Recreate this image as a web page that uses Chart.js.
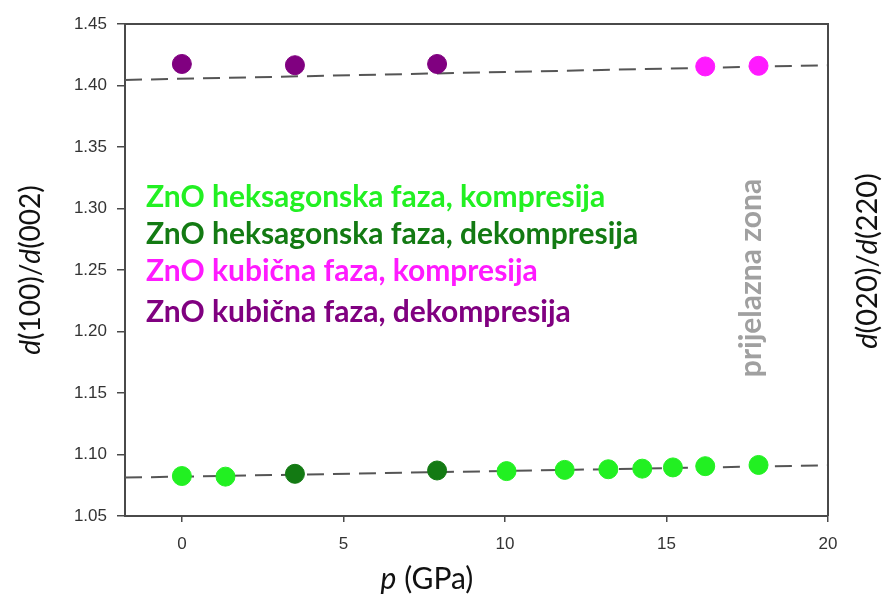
<!DOCTYPE html>
<html>
<head>
<meta charset="utf-8">
<script src="https://cdn.jsdelivr.net/npm/chart.js@4.4.1/dist/chart.umd.min.js"></script>
<style>
  html, body { margin: 0; padding: 0; background: #fff; }
  #wrap { width: 887px; height: 597px; }
</style>
</head>
<body>
<div id="wrap"><canvas id="chart" width="887" height="597"></canvas></div>
<script>
// podaci očitani s grafa
const xTicks = [0, 5, 10, 15, 20];
const yTicks = [1.05, 1.10, 1.15, 1.20, 1.25, 1.30, 1.35, 1.40, 1.45];

const hexKompX = [0, 1.35, 10.05, 11.85, 13.2, 14.25, 15.2, 16.2, 17.85];
const hexKompY = [1.0825, 1.082, 1.0865, 1.0875, 1.088, 1.0885, 1.0895, 1.0905, 1.0915];

const hexDekompX = [3.5, 7.9];
const hexDekompY = [1.0843, 1.087];

const kubKompX = [16.2, 17.85];
const kubKompY = [1.4155, 1.416];

const kubDekompX = [0, 3.5, 7.9];
const kubDekompY = [1.4175, 1.4165, 1.4175];

// isprekidane linije (trend)
const fitX = [-1.76, 20];
const fitGoreY = [1.4045, 1.4165];
const fitDoljeY = [1.0812, 1.0912];

const legendLabels = [
  "ZnO heksagonska faza, kompresija",
  "ZnO heksagonska faza, dekompresija",
  "ZnO kubična faza, kompresija",
  "ZnO kubična faza, dekompresija",
];
const zoneLabel = "prijelazna zona";

function toPoints(xs, ys) {
  return xs.map((x, i) => ({ x: x, y: ys[i] }));
}

const colors = ["#22f022", "#137a13", "#ff1aff", "#800080"];

// crtanje teksta s kurzivnim dijelovima
function drawMixed(ctx, parts, size) {
  let total = 0;
  parts.forEach((p) => {
    ctx.font = (p.i ? "italic " : "") + size + "px Lato";
    total += ctx.measureText(p.t).width;
  });
  let x = -total / 2;
  parts.forEach((p) => {
    ctx.font = (p.i ? "italic " : "") + size + "px Lato";
    ctx.fillText(p.t, x, 0);
    x += ctx.measureText(p.t).width;
  });
}

const decor = {
  id: "decor",
  afterDraw(chart) {
    const ctx = chart.ctx;
    const a = chart.chartArea;
    ctx.save();
    // okvir gore i desno
    ctx.strokeStyle = "#4a4a4a";
    ctx.lineWidth = 2;
    ctx.beginPath();
    ctx.moveTo(a.left, a.top);
    ctx.lineTo(a.right, a.top);
    ctx.lineTo(a.right, a.bottom);
    ctx.stroke();

    // legenda
    ctx.textBaseline = "alphabetic";
    ctx.textAlign = "left";
    ctx.font = "bold 30px Lato";
    const baselines = [207, 244, 281, 322];
    legendLabels.forEach((t, i) => {
      ctx.fillStyle = colors[i];
      ctx.fillText(t, 146, baselines[i]);
    });

    // prijelazna zona
    ctx.save();
    ctx.translate(761, 278);
    ctx.rotate(-Math.PI / 2);
    ctx.textAlign = "center";
    ctx.fillStyle = "#a0a0a0";
    ctx.font = "bold 30px Lato";
    ctx.fillText(zoneLabel, 0, 0);
    ctx.restore();

    // naslovi osi
    ctx.fillStyle = "#111";
    ctx.textAlign = "left";
    ctx.save();
    ctx.translate(40, 270);
    ctx.rotate(-Math.PI / 2);
    drawMixed(ctx, [{ t: "d", i: true }, { t: "(100)/" }, { t: "d", i: true }, { t: "(002)" }], 28);
    ctx.restore();

    ctx.save();
    ctx.translate(877, 261);
    ctx.rotate(-Math.PI / 2);
    drawMixed(ctx, [{ t: "d", i: true }, { t: "(020)/" }, { t: "d", i: true }, { t: "(220)" }], 29);
    ctx.restore();

    ctx.save();
    ctx.translate(427, 589);
    drawMixed(ctx, [{ t: "p", i: true }, { t: " (GPa)" }], 30);
    ctx.restore();

    ctx.restore();
  },
};

new Chart(document.getElementById("chart"), {
  type: "scatter",
  data: {
    datasets: [
      {
        label: legendLabels[0],
        data: toPoints(hexKompX, hexKompY),
        backgroundColor: colors[0],
        borderColor: colors[0],
        pointRadius: 9.5,
      },
      {
        label: legendLabels[1],
        data: toPoints(hexDekompX, hexDekompY),
        backgroundColor: colors[1],
        borderColor: colors[1],
        pointRadius: 9.5,
      },
      {
        label: legendLabels[2],
        data: toPoints(kubKompX, kubKompY),
        backgroundColor: colors[2],
        borderColor: colors[2],
        pointRadius: 9.5,
      },
      {
        label: legendLabels[3],
        data: toPoints(kubDekompX, kubDekompY),
        backgroundColor: colors[3],
        borderColor: colors[3],
        pointRadius: 9.5,
      },
      {
        label: "fit gore",
        data: toPoints(fitX, fitGoreY),
        showLine: true,
        pointRadius: 0,
        borderColor: "#555",
        borderWidth: 2,
        borderDash: [17, 9],
      },
      {
        label: "fit dolje",
        data: toPoints(fitX, fitDoljeY),
        showLine: true,
        pointRadius: 0,
        borderColor: "#555",
        borderWidth: 2,
        borderDash: [17, 9],
      },
    ],
  },
  options: {
    responsive: false,
    animation: false,
    layout: { padding: { top: 24, right: 59, left: 0, bottom: 0 } },
    plugins: {
      legend: { display: false },
      tooltip: { enabled: false },
    },
    scales: {
      x: {
        type: "linear",
        min: -1.76,
        max: 20,
        afterFit: (s) => { s.height = 81; },
        afterBuildTicks: (s) => { s.ticks = xTicks.map((v) => ({ value: v })); },
        border: { color: "#4a4a4a", width: 2 },
        grid: { drawOnChartArea: false, tickLength: 6, color: "#4a4a4a", lineWidth: 1.5 },
        ticks: {
          padding: 12,
          color: "#333",
          font: { family: "Liberation Sans", size: 17 },
        },
      },
      y: {
        type: "linear",
        min: 1.05,
        max: 1.45,
        afterFit: (s) => { s.width = 125; },
        afterBuildTicks: (s) => { s.ticks = yTicks.map((v) => ({ value: v })); },
        border: { color: "#4a4a4a", width: 2 },
        grid: { drawOnChartArea: false, tickLength: 8, color: "#4a4a4a", lineWidth: 1.5 },
        ticks: {
          padding: 10,
          color: "#333",
          font: { family: "Liberation Sans", size: 17 },
          callback: (v) => v.toFixed(2),
        },
      },
    },
  },
  plugins: [decor],
});
</script>
</body>
</html>
